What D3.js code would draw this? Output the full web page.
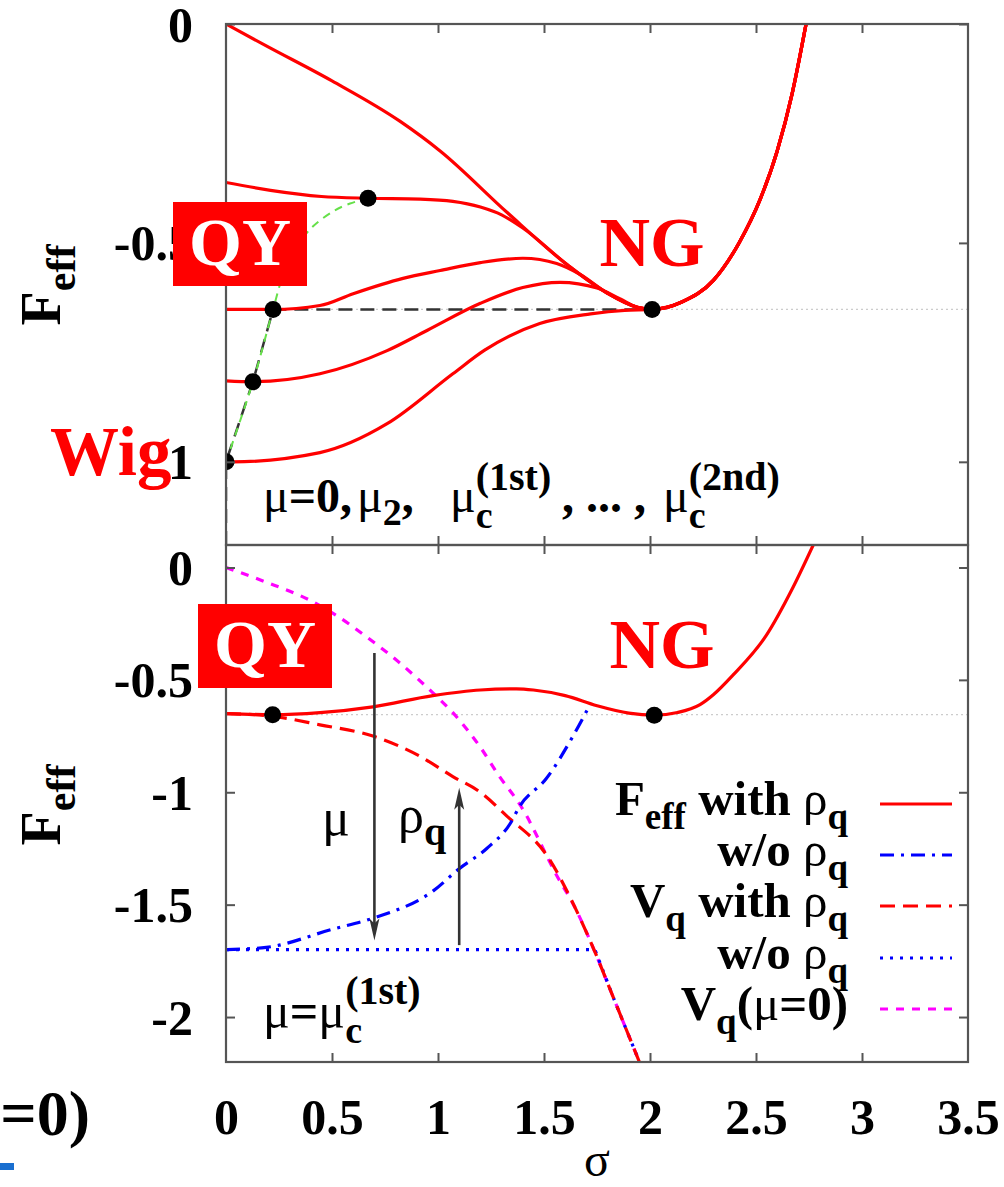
<!DOCTYPE html>
<html>
<head>
<meta charset="utf-8">
<script src="https://cdn.jsdelivr.net/npm/d3@7"></script>
<style>
  body { margin: 0; background: #fff; }
  svg text { font-family: "Liberation Serif", "Times New Roman", serif; white-space: pre; }
</style>
</head>
<body>
<script>
// ---- data ----
const sigmaTicks = [0, 0.5, 1, 1.5, 2, 2.5, 3, 3.5];
const topYTicks = [0, -0.5, -1];
const botYTicks = [0, -0.5, -1, -1.5, -2];

// top panel: F_eff for mu = 0, mu_2, mu_c(1st), ... , mu_c(2nd)
const curveMu0 = [[0, 0], [0.19, -0.05], [0.5, -0.13], [0.82, -0.222], [1.01, -0.29], [1.325, -0.43],
  [1.61, -0.55], [1.8, -0.615], [1.94, -0.647], [2.01, -0.652], [2.15, -0.635], [2.3, -0.585],
  [2.42, -0.5], [2.52, -0.4], [2.6, -0.29], [2.67, -0.16], [2.74, 0.01]];
const curveA = [[0, -0.362], [0.21, -0.38], [0.45, -0.394], [0.67, -0.398], [0.915, -0.4], [1.07, -0.405],
  [1.2, -0.418], [1.3, -0.436], [1.4, -0.466]];
const curveB = [[0, -0.652], [0.22, -0.652], [0.443, -0.643], [0.6, -0.616], [0.835, -0.581], [1.01, -0.563],
  [1.2, -0.545], [1.4, -0.535], [1.56, -0.547], [1.67, -0.572]];
const curveC = [[0, -0.815], [0.127, -0.817], [0.443, -0.799], [0.76, -0.746], [0.948, -0.7], [1.2, -0.638],
  [1.4, -0.602], [1.575, -0.59], [1.75, -0.603], [1.86, -0.628]];
const curveD = [[0, -1.0], [0.033, -1.0], [0.443, -0.979], [0.76, -0.913], [1.07, -0.799], [1.22, -0.745],
  [1.48, -0.684], [1.72, -0.662], [1.88, -0.654], [2.01, -0.652]];
const minimaPath = [[0, -1.0], [0.127, -0.817], [0.222, -0.652], [0.269, -0.574], [0.325, -0.517],
  [0.396, -0.469], [0.505, -0.428], [0.585, -0.41], [0.67, -0.398]];
const firstOrderPath = [[0, -1.19], [0, -1.0], [0.127, -0.817], [0.222, -0.652], [2.01, -0.652]];
const topDots = [[0.67, -0.398], [0.222, -0.652], [0.127, -0.817], [0, -1.0], [2.01, -0.652]];
const topLevel = -0.652;

// bottom panel: mu = mu_c(1st)
const feffWith = [[0, -0.65], [0.22, -0.655], [0.443, -0.646], [0.693, -0.62], [0.976, -0.57], [1.2, -0.545],
  [1.37, -0.54], [1.45, -0.545], [1.6, -0.57], [1.75, -0.615], [1.9, -0.648], [2.02, -0.657], [2.13, -0.645],
  [2.236, -0.61], [2.3, -0.565], [2.39, -0.48], [2.55, -0.3], [2.67, -0.097], [2.77, 0.1]];
const feffWithout = [[0, -1.7], [0.19, -1.69], [0.5, -1.61], [0.694, -1.56], [0.976, -1.44], [1.1, -1.34],
  [1.23, -1.25], [1.34, -1.14], [1.387, -1.06], [1.51, -0.94], [1.637, -0.75], [1.717, -0.61]];
const vqWith = [[0, -0.65], [0.22, -0.662], [0.443, -0.7], [0.693, -0.75], [0.915, -0.84], [1.07, -0.93],
  [1.2, -1.0], [1.325, -1.106], [1.52, -1.29], [1.65, -1.52], [1.74, -1.71], [1.83, -1.92], [1.95, -2.2]];
const vqWithout = [[0, -1.7], [1.74, -1.7], [1.83, -1.92], [1.95, -2.2]];
const vqMu0 = [[0, 0], [0.18, -0.062], [0.396, -0.146], [0.505, -0.204], [0.665, -0.31], [0.82, -0.425],
  [0.976, -0.558], [1.07, -0.646], [1.2, -0.8], [1.29, -0.93], [1.39, -1.06], [1.56, -1.37],
  [1.65, -1.52], [1.74, -1.71], [1.83, -1.92], [1.95, -2.2]];
const botDots = [[0.22, -0.655], [2.02, -0.657]];
const botLevel = -0.655;

const legendNames = ["Feff with", "w/o", "Vq with", "w/o", "Vq(mu=0)"];

// ---- layout ----
const W = 1004, H = 1187;
const FONT = "Liberation Serif, Times New Roman, serif";
const x = d3.scaleLinear().domain([0, 3.5]).range([226, 968]);
const yTop = d3.scaleLinear().domain([-1.19, 0]).range([545, 24]);
const yBot = d3.scaleLinear().domain([-2.2, 0.1]).range([1062, 545]);

const RED = "#ff0000", BLUE = "#0000ff", MAG = "#ff00ff", FRAME = "#555";

const svg = d3.select("body").append("svg").attr("width", W).attr("height", H)
  .attr("font-family", FONT);
const defs = svg.append("defs");
defs.append("clipPath").attr("id", "clipTop").append("rect")
  .attr("x", 226).attr("y", 24).attr("width", 742).attr("height", 521);
defs.append("clipPath").attr("id", "clipBot").append("rect")
  .attr("x", 226).attr("y", 545).attr("width", 742).attr("height", 517);

function lineFor(y, curve) {
  return d3.line().x(d => x(d[0])).y(d => y(d[1])).curve(curve || d3.curveMonotoneX);
}

// append mu=0 tail after the merge point
function withTail(pts) {
  const last = pts[pts.length - 1][0];
  return pts.concat(curveMu0.filter(d => d[0] > last + 0.02));
}

// text built from pieces, measured one by one (at: fixed offset, back: stack on previous piece)
function rich(g, x0, y0, pieces, anchor) {
  const grp = g.append("g");
  let cx = 0, lastStart = 0;
  pieces.forEach(p => {
    let sx = p.back ? lastStart : cx;
    if (p.at !== undefined) sx = p.at;
    const t = grp.append("text").attr("x", sx).attr("y", p.dy || 0)
      .attr("font-family", FONT)
      .attr("font-size", p.s).attr("font-weight", p.w || "bold")
      .attr("fill", p.fill || "#000").text(p.t);
    const w = t.node().getComputedTextLength();
    if (p.back) cx = Math.max(cx, sx + w);
    else { lastStart = sx; cx = sx + w; }
  });
  const shift = anchor === "end" ? -cx : 0;
  grp.attr("transform", `translate(${x0 + shift},${y0})`);
  return grp;
}

function styleTicks(g, labels) {
  g.attr("font-family", FONT);
  g.select(".domain").remove();
  g.selectAll(".tick line").attr("stroke", FRAME).attr("stroke-width", 2);
  g.selectAll(".tick text").attr("font-size", 50).attr("font-weight", "bold").attr("fill", "#000");
  if (!labels) g.selectAll(".tick text").remove();
}

function drawAxes(y, yTicks, yTopPx, yBotPx, withXLabels) {
  const gl = svg.append("g").attr("transform", "translate(226,0)")
    .call(d3.axisLeft(y).tickValues(yTicks).tickSize(-9).tickPadding(33).tickFormat(d => String(d)));
  styleTicks(gl, true);
  gl.selectAll(".tick text").attr("dy", "0.34em");
  const gr = svg.append("g").attr("transform", "translate(968,0)")
    .call(d3.axisRight(y).tickValues(yTicks).tickSize(-9));
  styleTicks(gr, false);
  const inner = sigmaTicks.filter(d => d > 0 && d < 3.5);
  const gt = svg.append("g").attr("transform", `translate(0,${yTopPx})`)
    .call(d3.axisTop(x).tickValues(inner).tickSize(-9));
  styleTicks(gt, false);
  const gb = svg.append("g").attr("transform", `translate(0,${yBotPx})`)
    .call(d3.axisBottom(x).tickValues(withXLabels ? sigmaTicks : inner).tickSize(-9)
      .tickPadding(36).tickFormat(d => String(d)));
  styleTicks(gb, withXLabels);
  if (withXLabels) {
    gb.selectAll(".tick line").filter(d => d === 0 || d === 3.5).remove();
    gb.selectAll(".tick text").attr("dy", "0.71em");
  }
  svg.append("rect").attr("x", 226).attr("y", yTopPx).attr("width", 742).attr("height", yBotPx - yTopPx)
    .attr("fill", "none").attr("stroke", FRAME).attr("stroke-width", 2.2);
}

// ---- top panel ----
const topG = svg.append("g").attr("clip-path", "url(#clipTop)");
topG.append("line").attr("x1", 226).attr("x2", 968).attr("y1", yTop(topLevel)).attr("y2", yTop(topLevel))
  .attr("stroke", "#ccc").attr("stroke-width", 1.2).attr("stroke-dasharray", "2,3");

topG.append("path").datum(firstOrderPath).attr("d", lineFor(yTop, d3.curveLinear))
  .attr("fill", "none").attr("stroke", "#333").attr("stroke-width", 2.5).attr("stroke-dasharray", "14,8");
topG.append("path").datum(minimaPath).attr("d", lineFor(yTop, d3.curveCatmullRom))
  .attr("fill", "none").attr("stroke", "#66e04a").attr("stroke-width", 2).attr("stroke-dasharray", "8,6");

[curveMu0, withTail(curveA), withTail(curveB), withTail(curveC), withTail(curveD)].forEach(c => {
  topG.append("path").datum(c).attr("d", lineFor(yTop))
    .attr("fill", "none").attr("stroke", RED).attr("stroke-width", 3.2);
});
topG.selectAll("circle.dot").data(topDots).enter().append("circle")
  .attr("cx", d => x(d[0])).attr("cy", d => yTop(d[1])).attr("r", 8.5).attr("fill", "#000");

drawAxes(yTop, topYTicks, 24, 545, false);

rich(svg, 263, 512, [
  { t: "\u03bc", s: 48, w: "normal", at: 0 }, { t: "=0,", s: 48 },
  { t: "\u03bc", s: 48, w: "normal", at: 94 }, { t: "2", s: 38, dy: 13 }, { t: ",", s: 48 },
  { t: "\u03bc", s: 48, w: "normal", at: 187 }, { t: "c", s: 38, dy: 16 }, { t: "(1st)", s: 40, dy: -22, back: true },
  { t: ", ... ,", s: 48, at: 299 },
  { t: "\u03bc", s: 48, w: "normal", at: 400 }, { t: "c", s: 38, dy: 16 }, { t: "(2nd)", s: 40, dy: -22, back: true }
]);

// ---- bottom panel ----
const botG = svg.append("g").attr("clip-path", "url(#clipBot)");
botG.append("line").attr("x1", 226).attr("x2", 968).attr("y1", yBot(botLevel)).attr("y2", yBot(botLevel))
  .attr("stroke", "#ccc").attr("stroke-width", 1.2).attr("stroke-dasharray", "2,3");

const series = [
  { pts: feffWith, color: RED, dash: null },
  { pts: feffWithout, color: BLUE, dash: "14,7,3,7" },
  { pts: vqWith, color: RED, dash: "15,8" },
  { pts: vqWithout, color: BLUE, dash: "3,7" },
  { pts: vqMu0, color: MAG, dash: "8,8" }
];
[4, 3, 2, 1, 0].forEach(i => {
  const s = series[i];
  botG.append("path").datum(s.pts).attr("d", lineFor(yBot, i === 3 ? d3.curveLinear : d3.curveMonotoneX))
    .attr("fill", "none").attr("stroke", s.color).attr("stroke-width", 3.2)
    .attr("stroke-dasharray", s.dash);
});
botG.selectAll("circle.dot").data(botDots).enter().append("circle")
  .attr("cx", d => x(d[0])).attr("cy", d => yBot(d[1])).attr("r", 8.5).attr("fill", "#000");

// arrows mu (down) and rho_q (up)
function arrow(sig, from, to) {
  const ax = x(sig), y1 = yBot(from), y2 = yBot(to);
  const dir = y2 > y1 ? 1 : -1;
  svg.append("line").attr("x1", ax).attr("x2", ax).attr("y1", y1).attr("y2", y2 - dir * 10)
    .attr("stroke", "#333").attr("stroke-width", 2.6);
  svg.append("path")
    .attr("d", `M${ax},${y2} L${ax - 5},${y2 - dir * 22} L${ax},${y2 - dir * 17} L${ax + 5},${y2 - dir * 22} Z`)
    .attr("fill", "#333");
}
arrow(0.70, -0.38, -1.66);
arrow(1.10, -1.68, -0.98);
rich(svg, 322, 835, [{ t: "\u03bc", s: 52, w: "normal" }]);
rich(svg, 398, 832, [{ t: "\u03c1", s: 52, w: "normal" }, { t: "q", s: 40, dy: 13 }]);

drawAxes(yBot, botYTicks, 545, 1062, true);

rich(svg, 263, 1028, [
  { t: "\u03bc", s: 50, w: "normal" }, { t: "=", s: 50 }, { t: "\u03bc", s: 50, w: "normal" },
  { t: "c", s: 38, dy: 15 }, { t: "(1st)", s: 40, dy: -24, back: true }
]);

// legend
const legendY = [804, 855, 906, 958, 1009];
const legendPieces = [
  [{ t: "F", s: 49 }, { t: "eff", s: 37, dy: 14 }, { t: " with ", s: 49 }, { t: "\u03c1", s: 49, w: "normal" }, { t: "q", s: 37, dy: 14 }],
  [{ t: "w/o ", s: 49 }, { t: "\u03c1", s: 49, w: "normal" }, { t: "q", s: 37, dy: 14 }],
  [{ t: "V", s: 49 }, { t: "q", s: 37, dy: 14 }, { t: " with ", s: 49 }, { t: "\u03c1", s: 49, w: "normal" }, { t: "q", s: 37, dy: 14 }],
  [{ t: "w/o ", s: 49 }, { t: "\u03c1", s: 49, w: "normal" }, { t: "q", s: 37, dy: 14 }],
  [{ t: "V", s: 49 }, { t: "q", s: 37, dy: 14 }, { t: "(", s: 49 }, { t: "\u03bc", s: 49, w: "normal" }, { t: "=0)", s: 49 }]
];
legendNames.forEach((name, i) => {
  rich(svg, 848, legendY[i] + 11, legendPieces[i], "end");
  svg.append("line").attr("x1", 880).attr("x2", 952).attr("y1", legendY[i]).attr("y2", legendY[i])
    .attr("stroke", series[i].color).attr("stroke-width", 3.2).attr("stroke-dasharray", series[i].dash);
});

// axis titles
[285, 805].forEach(cy => {
  const t = svg.append("text").attr("transform", `translate(60,${cy}) rotate(-90)`)
    .attr("text-anchor", "middle").attr("font-weight", "bold").attr("font-size", 56);
  t.append("tspan").text("F");
  t.append("tspan").attr("font-size", 42).attr("dy", 15).text("eff");
});
svg.append("text").attr("x", 597).attr("y", 1176).attr("text-anchor", "middle")
  .attr("font-size", 48).text("\u03c3");

// overlay tags
function tagBox(x0, y0, label) {
  svg.append("rect").attr("x", x0).attr("y", y0).attr("width", 134).attr("height", 84).attr("fill", RED);
  svg.append("text").attr("x", x0 + 67).attr("y", y0 + 63).attr("text-anchor", "middle")
    .attr("font-size", 68).attr("font-weight", "bold").attr("fill", "#fff").text(label);
}
tagBox(173, 202, "QY");
tagBox(198, 604, "QY");
svg.append("text").attr("x", 652).attr("y", 266).attr("text-anchor", "middle")
  .attr("font-size", 70).attr("font-weight", "bold").attr("fill", RED).text("NG");
svg.append("text").attr("x", 662).attr("y", 668).attr("text-anchor", "middle")
  .attr("font-size", 70).attr("font-weight", "bold").attr("fill", RED).text("NG");
svg.append("rect").attr("x", 140).attr("y", 448).attr("width", 28).attr("height", 26).attr("fill", "#fff");
svg.append("text").attr("x", 50).attr("y", 475)
  .attr("font-size", 69).attr("font-weight", "bold").attr("fill", RED).text("Wig");

// fragment of a neighbouring figure at the left edge
svg.append("text").attr("x", 90).attr("y", 1135).attr("text-anchor", "end")
  .attr("font-size", 64).attr("font-weight", "bold").text("=0)");
svg.append("rect").attr("x", 0).attr("y", 1163).attr("width", 14).attr("height", 7).attr("fill", "#1a6fd0");
</script>
</body>
</html>
